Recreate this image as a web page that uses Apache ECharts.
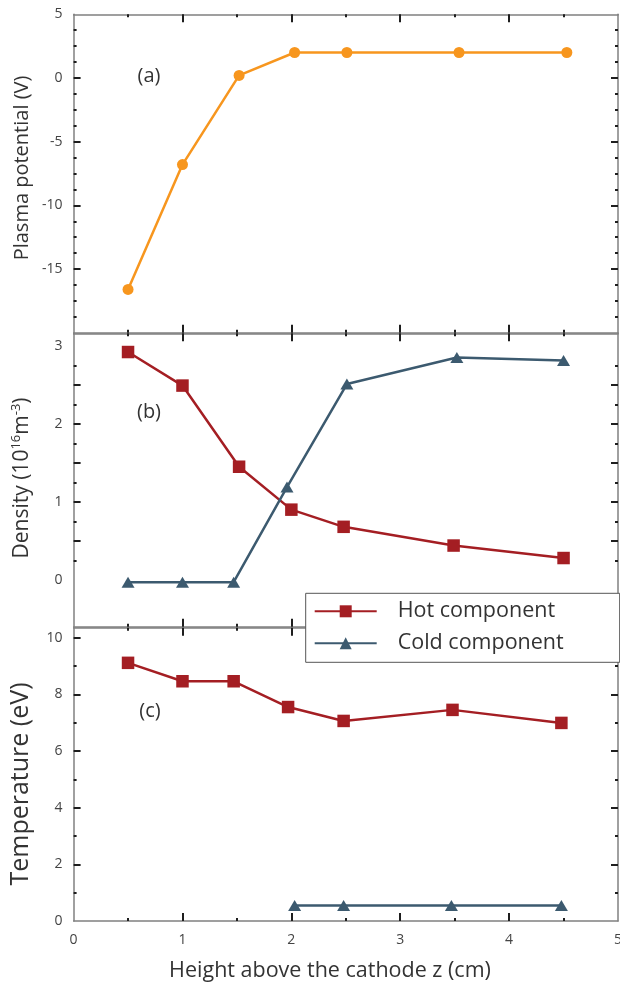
<!DOCTYPE html>
<html><head><meta charset="utf-8">
<script src="https://cdn.jsdelivr.net/npm/echarts@6/dist/echarts.min.js"></script>
<style>html,body{margin:0;padding:0;background:#fff;overflow:hidden}#c{width:620px;height:987px}</style>
</head><body><div id="c"></div>
<script>
// ---- data ----
const zPotential = [0.5, 1.0, 1.52, 2.03, 2.51, 3.54, 4.53];
const plasmaPotential = [-16.6, -6.8, 0.2, 2.0, 2.0, 2.0, 2.0];
const zDensityHot = [0.5, 1.0, 1.52, 2.0, 2.48, 3.49, 4.5];
const densityHot = [2.92, 2.49, 1.45, 0.90, 0.68, 0.44, 0.28];
const zDensityCold = [0.5, 1.0, 1.47, 1.96, 2.51, 3.52, 4.5];
const densityCold = [-0.03, -0.03, -0.03, 1.19, 2.51, 2.85, 2.81];
const zTempHot = [0.5, 1.0, 1.47, 1.97, 2.48, 3.48, 4.48];
const tempHot = [9.11, 8.46, 8.46, 7.55, 7.06, 7.45, 6.99];
const zTempCold = [2.03, 2.48, 3.47, 4.48];
const tempCold = [0.55, 0.55, 0.55, 0.55];
const seriesNames = ['Hot component', 'Cold component'];
const xTickLabels = [0, 1, 2, 3, 4, 5];
const potentialTickLabels = [5, 0, -5, -10, -15];
const densityTickLabels = [0, 1, 2, 3];
const temperatureTickLabels = [0, 2, 4, 6, 8, 10];
const panelLabels = ['(a)', '(b)', '(c)'];

// ---- styling ----
const FONT = '"Open Sans", "Noto Sans", sans-serif';
const ORANGE = '#F7961E', HOT = '#A41E23', COLD = '#3C5A6F';
const FRAME = { color: '#808080', width: 1.5 };
const TICK = { color: '#1e1e1e', width: 2 };
function steps(a, b, s, skip) {
  const out = [];
  for (let v = a; v <= b + 1e-9; v += s) {
    const r = Math.round(v * 1000) / 1000;
    if (!skip || !skip(r)) out.push(r);
  }
  return out;
}
const grids = [
  { left: 73.6, right: 2, top: 14.3, height: 318.4, outerBoundsMode: 'none', containLabel: false },
  { left: 73.6, right: 2, top: 333.3, height: 293.4, outerBoundsMode: 'none', containLabel: false },
  { left: 73.6, right: 2, top: 627.7, height: 293.3, outerBoundsMode: 'none', containLabel: false }
];
const yRanges = [
  { min: -20, max: 5, labels: potentialTickLabels,
    major: [0, -5, -10, -15], minor: steps(-18.75, 3.75, 1.25, v => Math.abs(v % 5) < 1e-6) },
  { min: -0.6, max: 3.16, labels: densityTickLabels,
    major: [0.5, 1, 1.5, 2, 2.5], minor: steps(0.25, 2.75, 0.5) },
  { min: 0, max: 10.35, labels: temperatureTickLabels,
    major: [2, 4, 6, 8, 10], minor: steps(1, 9, 2) }
];
const xMajor = [1, 2, 3, 4], xMinor = steps(0.5, 4.5, 1);

const xAxis = [], yAxis = [];
const mainX = [], mainY = [];
grids.forEach((g, gi) => {
  ['bottom', 'top'].forEach(pos => {
    [true, false].forEach(isMajor => {
      if (pos === 'bottom' && isMajor) mainX[gi] = xAxis.length;
      xAxis.push({
        type: 'value', gridIndex: gi, position: pos, min: 0, max: 5,
        axisLine: { show: isMajor, onZero: false, lineStyle: FRAME },
        axisTick: { show: true, inside: true, length: isMajor ? 8 : 3,
                    customValues: isMajor ? xMajor : xMinor, lineStyle: TICK },
        axisLabel: { show: gi === 2 && pos === 'bottom' && isMajor, customValues: xTickLabels,
                     fontFamily: FONT, fontSize: 14, color: '#444', margin: 12 },
        splitLine: { show: false }
      });
    });
  });
  const r = yRanges[gi];
  ['left', 'right'].forEach(pos => {
    [true, false].forEach(isMajor => {
      if (pos === 'left' && isMajor) mainY[gi] = yAxis.length;
      yAxis.push({
        type: 'value', gridIndex: gi, position: pos, min: r.min, max: r.max,
        axisLine: { show: isMajor, onZero: false, lineStyle: FRAME },
        axisTick: { show: true, inside: true, length: isMajor ? 7 : 3,
                    customValues: isMajor ? r.major : r.minor, lineStyle: TICK },
        axisLabel: { show: pos === 'left' && isMajor, customValues: r.labels,
                     fontFamily: FONT, fontSize: 14, color: '#444', margin: 11 },
        splitLine: { show: false }
      });
    });
  });
});

function pairs(xs, ys) { return xs.map((x, i) => [x, ys[i]]); }
function lineSeries(name, gi, xs, ys, color, symbol, size) {
  return {
    type: 'line', name, xAxisIndex: mainX[gi], yAxisIndex: mainY[gi],
    data: pairs(xs, ys), symbol, symbolSize: size, showSymbol: true,
    lineStyle: { color, width: 2.5 }, itemStyle: { color },
    emphasis: { disabled: true }, animation: false, z: 3
  };
}
const series = [
  lineSeries('Plasma potential', 0, zPotential, plasmaPotential, ORANGE, 'circle', 11),
  lineSeries(seriesNames[0], 1, zDensityHot, densityHot, HOT, 'rect', 12.5),
  lineSeries(seriesNames[1], 1, zDensityCold, densityCold, COLD, 'triangle', [13, 11]),
  lineSeries(seriesNames[0], 2, zTempHot, tempHot, HOT, 'rect', 12.5),
  lineSeries(seriesNames[1], 2, zTempCold, tempCold, COLD, 'triangle', [13, 11])
];

const txt = (x, y, text, size, rot, extra) => ({
  type: 'text', x, y, rotation: rot || 0, z: 10,
  style: Object.assign({ text, font: size + 'px ' + FONT, fill: '#333', align: 'center', verticalAlign: 'middle' }, extra || {})
});
const graphic = [
  txt(149, 76, panelLabels[0], 20),
  txt(149, 412, panelLabels[1], 20),
  txt(150, 711, panelLabels[2], 20),
  txt(22, 168, 'Plasma potential (V)', 20, Math.PI / 2),
  {
    type: 'text', x: 22, y: 478, rotation: Math.PI / 2, z: 10,
    style: {
      text: 'Density (10{s|16}m{s|-3})', font: '21px ' + FONT, fill: '#333',
      align: 'center', verticalAlign: 'middle',
      rich: { s: { fontSize: 13, fontFamily: FONT, fill: '#333', verticalAlign: 'top', lineHeight: 24 } }
    }
  },
  txt(21, 784, 'Temperature (eV)', 25, Math.PI / 2),
  txt(330, 971, 'Height above the cathode z (cm)', 21.5, 0)
];

const chart = echarts.init(document.getElementById('c'), null, { renderer: 'canvas' });
chart.setOption({
  backgroundColor: '#fff',
  animation: false,
  grid: grids,
  xAxis, yAxis, series, graphic,
  legend: {
    data: seriesNames, orient: 'vertical', left: 305.7, top: 593.3,
    itemWidth: 62, itemHeight: 15, itemGap: 10,
    padding: [7, 56, 8, 8],
    backgroundColor: '#fff', borderColor: '#555', borderWidth: 1,
    textStyle: { fontFamily: FONT, fontSize: 21.5, color: '#333', padding: [0, 0, 0, 16] },
    selectedMode: false, z: 20
  }
});
</script></body></html>
